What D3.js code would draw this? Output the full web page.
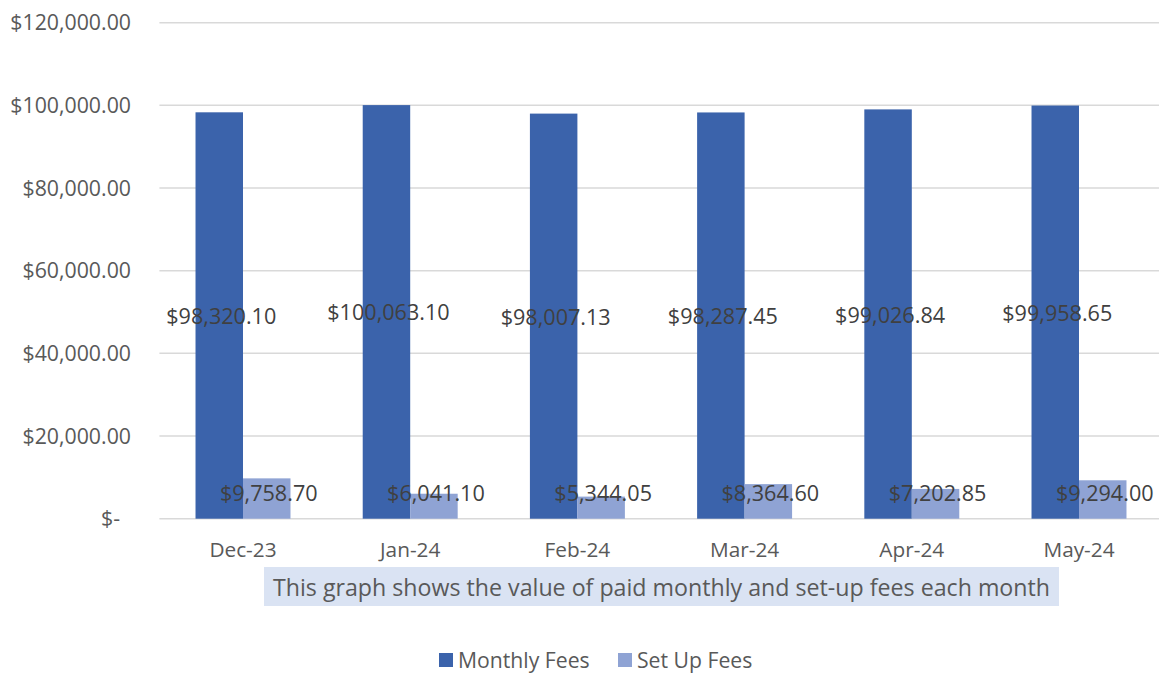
<!DOCTYPE html>
<html>
<head>
<meta charset="utf-8">
<script src="https://cdn.jsdelivr.net/npm/d3@7/dist/d3.min.js"></script>
<style>
  html, body { margin: 0; padding: 0; background: #ffffff; }
  svg { display: block; font-family: "Open Sans", sans-serif; }
</style>
</head>
<body>
<svg id="chart" width="1159" height="673"></svg>
<script>
const categories = ["Dec-23", "Jan-24", "Feb-24", "Mar-24", "Apr-24", "May-24"];
const seriesNames = ["Monthly Fees", "Set Up Fees"];
const monthlyFees = [98320.10, 100063.10, 98007.13, 98287.45, 99026.84, 99958.65];
const setUpFees = [9758.70, 6041.10, 5344.05, 8364.60, 7202.85, 9294.00];
const yTicks = [0, 20000, 40000, 60000, 80000, 100000, 120000];
const caption = "This graph shows the value of paid monthly and set-up fees each month";
const colors = ["#3b63ab", "#8fa3d4"];

const svg = d3.select("#chart");
const plotLeft = 159.4, plotRight = 1162.6, plotTop = 22.7, plotBottom = 518.7;

const x0 = d3.scaleBand().domain(categories).range([plotLeft, plotRight])
  .paddingInner(0.432).paddingOuter(0.216);
const x1 = d3.scaleBand().domain(seriesNames).range([0, x0.bandwidth()]);
const y = d3.scaleLinear().domain([0, 120000]).range([plotBottom, plotTop]);

const money = d3.format(",.2f");
const fmtTick = v => v === 0 ? "$-" : "$" + money(v);

// gridlines
svg.append("g").selectAll("line").data(yTicks).join("line")
  .attr("x1", plotLeft).attr("x2", plotRight)
  .attr("y1", d => y(d)).attr("y2", d => y(d))
  .attr("stroke", "#d9d9d9").attr("stroke-width", 1.5);

// y labels
svg.append("g").selectAll("text").data(yTicks).join("text")
  .attr("x", 131).attr("dx", d => d === 0 ? -11 : 0)
  .attr("y", d => y(d)).attr("dy", 7.5)
  .attr("text-anchor", "end").attr("fill", "#595959")
  .attr("font-size", 21.3).text(fmtTick);

// data
const rows = categories.map((c, i) => ({ cat: c, vals: [
  { s: seriesNames[0], v: monthlyFees[i], k: 0 },
  { s: seriesNames[1], v: setUpFees[i], k: 1 }
]}));

const groups = svg.append("g").selectAll("g").data(rows).join("g")
  .attr("transform", d => `translate(${x0(d.cat)},0)`);

groups.selectAll("rect").data(d => d.vals).join("rect")
  .attr("x", d => x1(d.s)).attr("width", x1.bandwidth())
  .attr("y", d => y(d.v)).attr("height", d => y(0) - y(d.v))
  .attr("fill", d => colors[d.k]);

groups.selectAll("text").data(d => d.vals).join("text")
  .attr("x", d => x1(d.s) + x1.bandwidth() / 2 + 2)
  .attr("y", d => Math.min((y(d.v) + y(0)) / 2, y(0) - 26.7))
  .attr("dy", 8.5)
  .attr("text-anchor", "middle").attr("fill", "#404040")
  .attr("font-size", 21.6)
  .text(d => "$" + money(d.v));

// category labels
svg.append("g").selectAll("text").data(categories).join("text")
  .attr("x", d => x0(d) + x0.bandwidth() / 2).attr("y", 557)
  .attr("text-anchor", "middle").attr("fill", "#595959")
  .attr("font-size", 20.8).text(d => d);

// caption box
svg.append("rect").attr("x", 264).attr("y", 567).attr("width", 795).attr("height", 39)
  .attr("fill", "#dae3f3");
svg.append("text").attr("x", 661.5).attr("y", 596).attr("text-anchor", "middle")
  .attr("fill", "#595959").attr("font-size", 23.2).text(caption);

// legend
const legX = [439, 618];
const leg = svg.append("g").selectAll("g").data(seriesNames).join("g")
  .attr("transform", (d, i) => `translate(${legX[i]},653)`);
leg.append("rect").attr("width", 14).attr("height", 14).attr("fill", (d, i) => colors[i]);
leg.append("text").attr("x", 19).attr("y", 14.5).attr("fill", "#595959")
  .attr("font-size", 21.2).text(d => d);
</script>
</body>
</html>
